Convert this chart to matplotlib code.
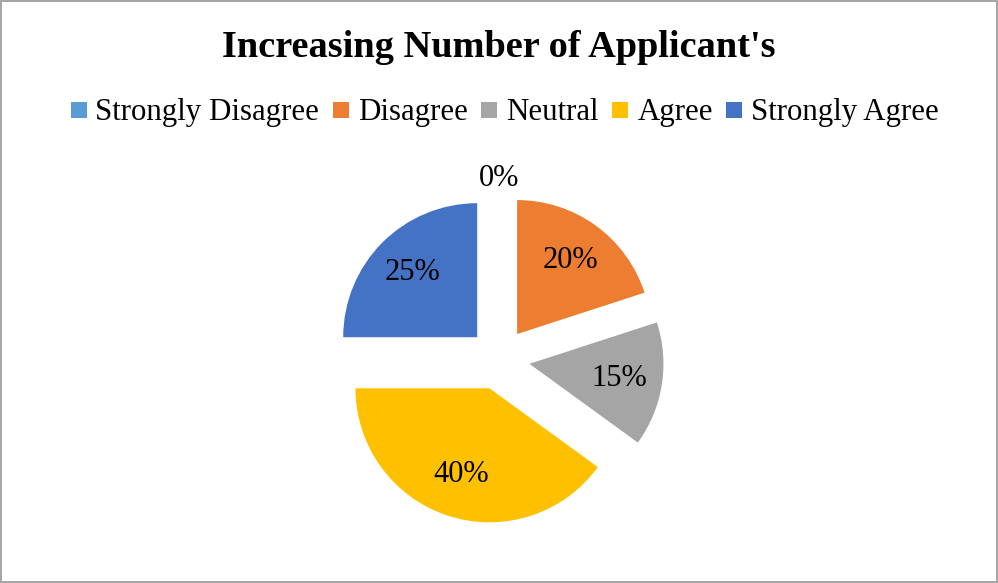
import numpy as np
import matplotlib.pyplot as plt
from matplotlib.lines import Line2D

plt.rcParams['font.family'] = ['Liberation Serif', 'DejaVu Serif']

# Survey responses (share of respondents, %)
categories = ["Strongly Disagree", "Disagree", "Neutral", "Agree", "Strongly Agree"]
shares = [0, 20, 15, 40, 25]
colors = ["#5B9BD5", "#ED7D31", "#A5A5A5", "#FFC000", "#4472C4"]
title = "Increasing Number of Applicant's"

fig = plt.figure(figsize=(9.98, 5.83), dpi=100)
fig.patch.set_facecolor('white')
fig.patch.set_edgecolor('#A6A6A6')
fig.patch.set_linewidth(1.5)

# axes covers the whole figure, 1 data unit = pie radius (134 px)
ax = fig.add_axes([0, 0, 1, 1])
r_px = 134.0
cx_px, cy_px = 499.0, 583.0 - 359.0
ax.set_xlim(-cx_px / r_px, (998 - cx_px) / r_px)
ax.set_ylim(-cy_px / r_px, (583 - cy_px) / r_px)

explode = [0.23] * len(shares)
wedges, _, autotexts = ax.pie(
    shares, colors=colors, explode=explode, startangle=90, counterclock=False,
    autopct='%1.0f%%', pctdistance=0.68, radius=1.0,
    wedgeprops=dict(linewidth=0), textprops=dict(fontsize=22, color='black'))
ax.set_aspect('equal', adjustable='datalim')
ax.set_xlim(-cx_px / r_px, (998 - cx_px) / r_px)
ax.set_ylim(-cy_px / r_px, (583 - cy_px) / r_px)
ax.axis('off')

# empty slice: put its label outside the pie
for w, t, v in zip(wedges, autotexts, shares):
    if v == 0:
        ang = np.deg2rad(w.theta1)
        t.set_position((w.center[0] + 1.12 * np.cos(ang),
                        w.center[1] + 1.12 * np.sin(ang)))

fig.text(0.5, 1 - 57 / 583, title, ha='center', va='baseline',
         fontsize=27.6, fontweight='bold')

handles = [Line2D([0], [0], marker='s', linestyle='none', markersize=11,
                  markerfacecolor=c, markeredgewidth=0) for c in colors]
fig.legend(handles, categories, loc='center', bbox_to_anchor=(0.506, 1 - 113 / 583),
           ncol=len(categories), frameon=False, fontsize=22.2,
           handlelength=0.5, handletextpad=0.3, columnspacing=0.45,
           borderpad=0, borderaxespad=0)

plt.savefig("out.png", dpi=100)
